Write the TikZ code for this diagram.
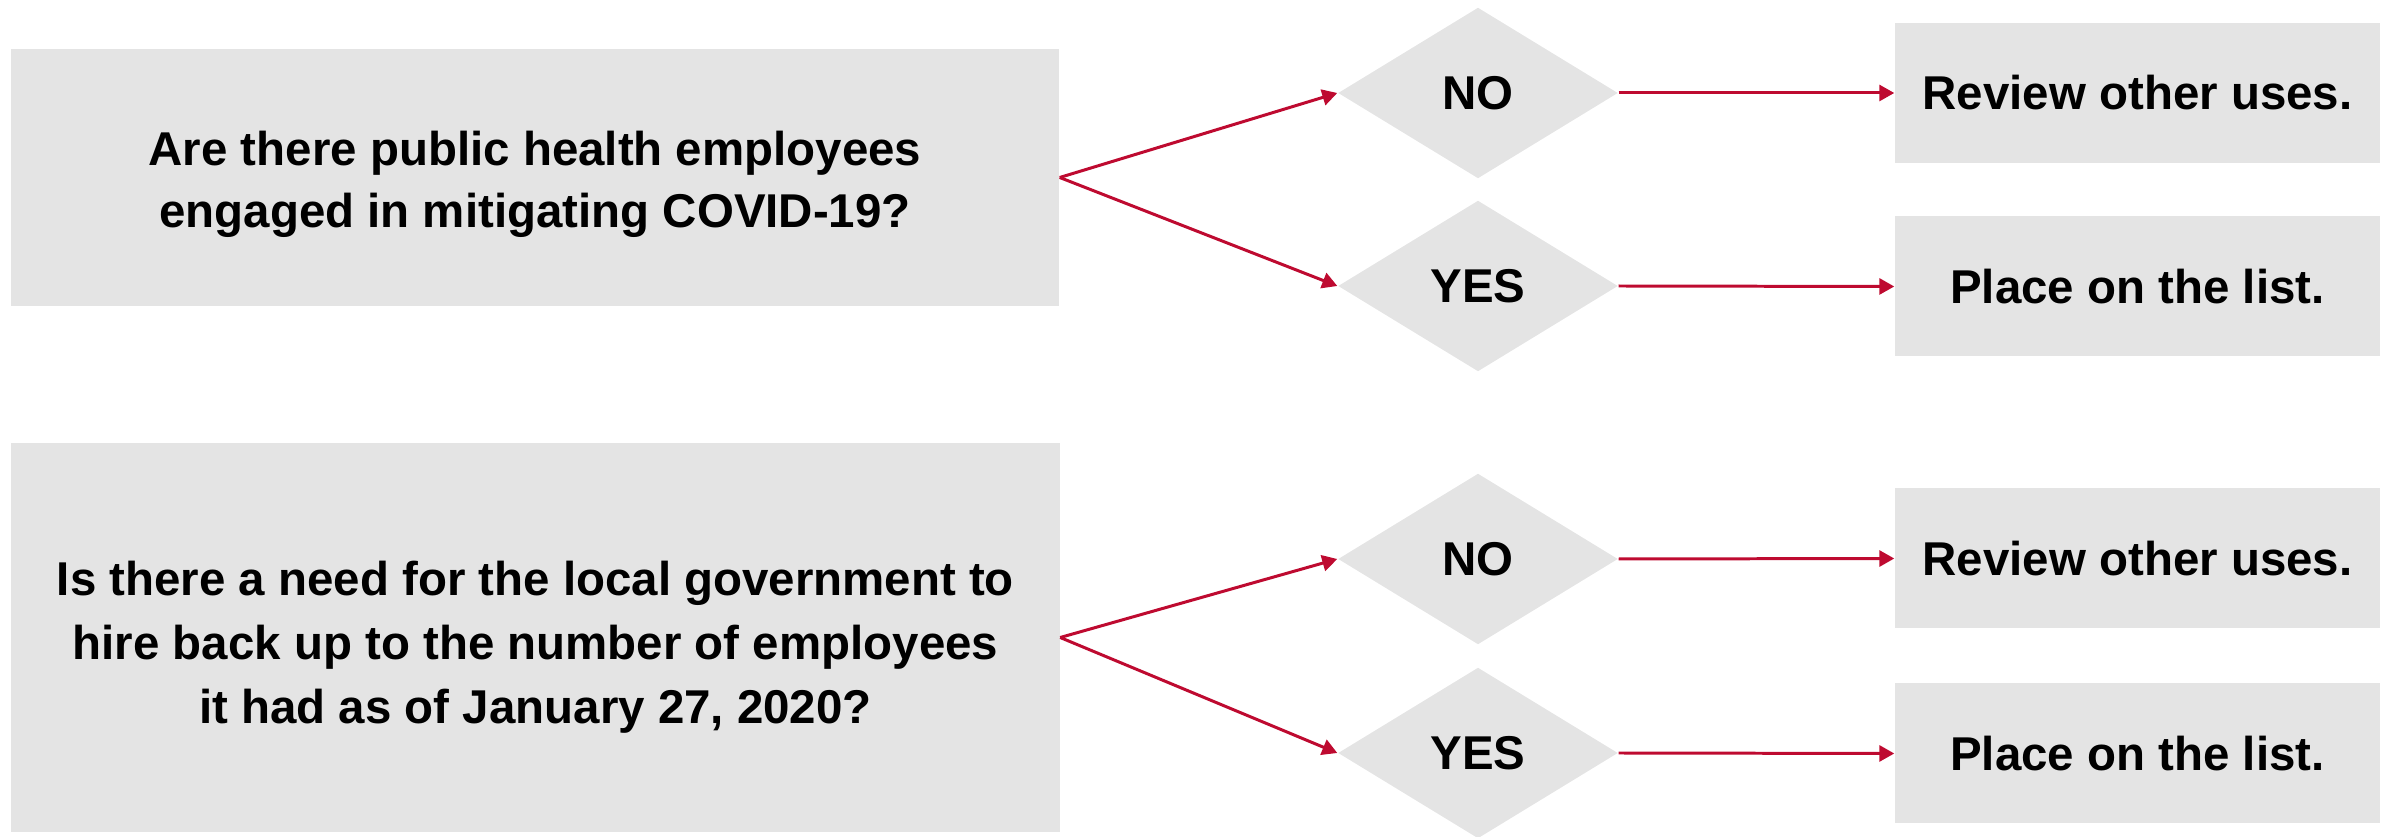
\documentclass[tikz,border=0pt]{standalone}
\usepackage{fontspec}
\setmainfont{Liberation Sans}
\usetikzlibrary{shapes.geometric,arrows.meta}
\definecolor{boxgray}{HTML}{E4E4E4}
\definecolor{linkred}{HTML}{BE0A30}
\tikzset{
  txt/.style={font=\fontsize{13.5}{17.4}\selectfont\bfseries},
  qbox/.style={txt, fill=boxgray, align=center, inner sep=0pt, minimum width=10.48cm},
  choice/.style={txt, diamond, fill=boxgray, inner sep=0pt, minimum width=2.8cm, minimum height=1.71cm},
  result/.style={txt, fill=boxgray, inner sep=0pt, minimum width=4.85cm, minimum height=1.4cm},
  link/.style={->,>={Triangle[length=0.15cm,width=0.16cm]}, linkred, line width=0.85pt}
}
\begin{document}
\begin{tikzpicture}
  \useasboundingbox (0,0) rectangle (23.89,8.37);
  % questions
  \node[qbox, minimum height=2.57cm] (q1) at (5.35,6.595) {\rule{0pt}{0.48cm}Are there public health employees\\engaged in mitigating COVID-19?};
  \node[qbox, minimum height=3.89cm, font=\fontsize{13.5}{18.2}\selectfont\bfseries] (q2) at (5.355,1.995) {\rule{0pt}{0.53cm}Is there a need for the local government to\\hire back up to the number of employees\\it had as of January 27, 2020?};
  % answers
  \node[choice] (no1) at (14.78,7.44) {NO};
  \node[choice] (yes1) at (14.78,5.51) {YES};
  \node[choice] (no2) at (14.78,2.78) {NO};
  \node[choice] (yes2) at (14.78,0.84) {YES};
  % outcomes
  \node[result] (rev1) at (21.375,7.44) {Review other uses.};
  \node[result] (put1) at (21.375,5.505) {Place on the list.};
  \node[result] (rev2) at (21.375,2.785) {Review other uses.};
  \node[result] (put2) at (21.375,0.835) {Place on the list.};
  \draw[link] (q1.east)--(no1.west);
  \draw[link] (q1.east)--(yes1.west);
  \draw[link] (q2.east)--(no2.west);
  \draw[link] (q2.east)--(yes2.west);
  \draw[link] (no1.east)--(rev1.west);
  \draw[link] (yes1.east)--(put1.west);
  \draw[link] (no2.east)--(rev2.west);
  \draw[link] (yes2.east)--(put2.west);
\end{tikzpicture}
\end{document}
